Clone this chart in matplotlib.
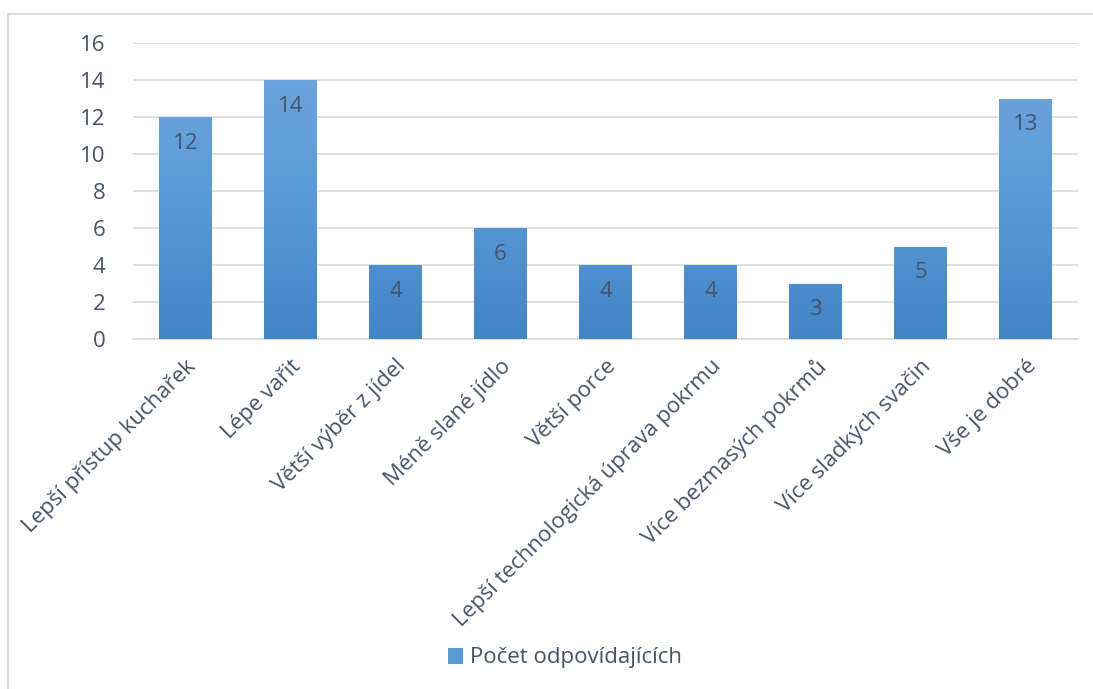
import numpy as np
import matplotlib.pyplot as plt
from matplotlib.patches import Rectangle
from matplotlib.colors import LinearSegmentedColormap

plt.rcParams['font.family'] = ['Open Sans', 'DejaVu Sans']

# data
categories = ["Lepší přístup kuchařek", "Lépe vařit", "Větší výběr z jídel",
              "Méně slané jídlo", "Větší porce", "Lepší technologická úprava pokrmu",
              "Více bezmasých pokrmů", "Více sladkých svačin", "Vše je dobré"]
values = [12, 14, 4, 6, 4, 4, 3, 5, 13]
series_name = "Počet odpovídajících"

text_col = '#44546A'
grid_col = '#D9D9D9'
grad = LinearSegmentedColormap.from_list('bar', ['#4285C5', '#5B9BD9', '#71A6DC'])
fs = 16

fig = plt.figure(figsize=(10.93, 6.89), dpi=100)
ax = fig.add_axes([133/1093, 1 - 339/689, (1078-133)/1093, (339-43)/689])

# outer chart border
fig.patches.append(Rectangle((8/1093, -0.05), 1.05, 1 - 14/689 + 0.05,
                             transform=fig.transFigure, fill=False,
                             edgecolor='#D9DEE6', linewidth=1.5))

x = np.arange(len(categories))
bars = ax.bar(x, values, width=0.5, color='#5B9BD5', zorder=2)

# vertical gradient on each bar
ymax = 16
img = np.linspace(0, 1, 256).reshape(-1, 1)
for b in bars:
    bx, bw = b.get_x(), b.get_width()
    im = ax.imshow(img, cmap=grad, origin='lower', aspect='auto',
                   extent=(bx, bx + bw, 0, ymax), zorder=3, vmin=0, vmax=1)
    im.set_clip_path(b)

for xi, v in zip(x, values):
    ax.text(xi, v - 0.85, str(v), ha='center', va='top', fontsize=fs,
            color=text_col, zorder=4)

ax.set_xlim(-0.5, len(categories) - 0.5)
ax.set_ylim(0, 16)
ax.set_yticks(range(0, 17, 2))
ax.yaxis.grid(True, color=grid_col, linewidth=1.2, zorder=0)
ax.set_axisbelow(True)
for s in ['top', 'right', 'left']:
    ax.spines[s].set_visible(False)
ax.spines['bottom'].set_color(grid_col)
ax.spines['bottom'].set_linewidth(1.2)
ax.tick_params(axis='both', length=0, colors=text_col, labelsize=fs)
ax.tick_params(axis='y', pad=20)
ax.set_xticks(x)
ax.set_xticklabels(categories, rotation=45, ha='right', rotation_mode='anchor')
ax.tick_params(axis='x', pad=12)

handle = Rectangle((0, 0), 1, 1, facecolor='#5B9BD5')
fig.legend([handle], [series_name], loc='center', bbox_to_anchor=(565/1093, 1 - 658/689),
           frameon=False, fontsize=fs, labelcolor=text_col, handlelength=0.7,
           handleheight=0.7, handletextpad=0.3)

fig.savefig('out.png', dpi=100)
